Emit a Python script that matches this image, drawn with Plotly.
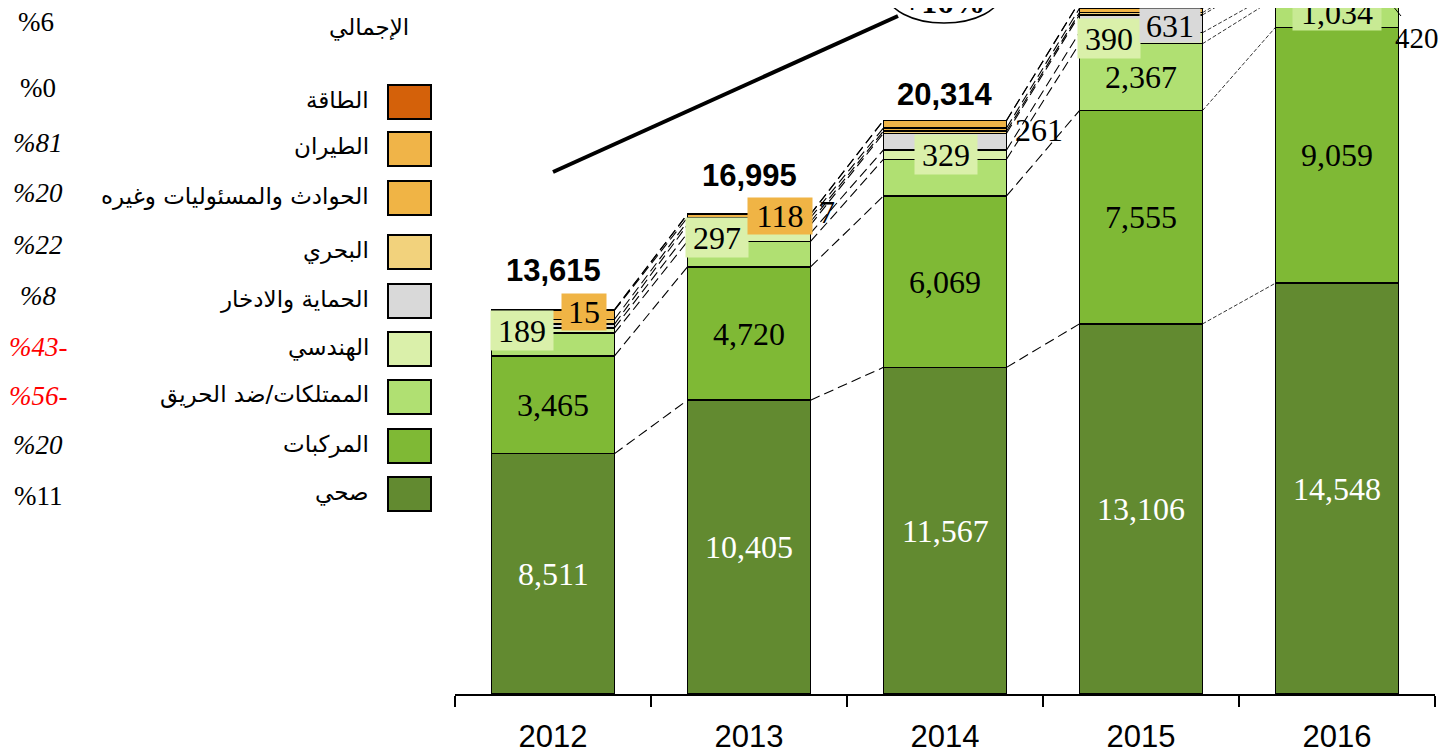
import plotly.graph_objects as go

# ---------------- data ----------------
years = ["2012", "2013", "2014", "2015", "2016"]

series_names = ["صحي", "المركبات", "الممتلكات/ضد الحريق", "الهندسي", "الحماية والادخار",
                "البحري", "الحوادث والمسئوليات وغيره", "الطيران", "الطاقة"]
health = [8511, 10405, 11567, 13106, 14548]
vehicles = [3465, 4720, 6069, 7555, 9059]
property_fire = [800, 900, 1300, 2367, 1034]
engineering = [189, 297, 329, 390, 222]
protection = [135, 290, 590, 631, 681]
marine = [170, 110, 80, 80, 98]
accidents = [320, 148, 110, 150, 180]
aviation = [15, 118, 261, 232, 420]
energy = [10, 7, 8, 5, 5]
totals = [13615, 16995, 20314]          # printed totals (2015/2016 cut off)
growth_labels = ["%11", "%20", "%56-", "%43-", "%8", "%22", "%20", "%81", "%0"]  # per series, bottom->top
total_growth = "%6"
total_label = "الإجمالي"
cagr_label = "+16%"

colors = ["#628a30", "#7fb935", "#b0e072", "#daf0aa", "#d9d9d9",
          "#f2d27c", "#f0b445", "#f0b448", "#d4610a"]
series = [health, vehicles, property_fire, engineering, protection,
          marine, accidents, aviation, energy]

# ---------------- geometry helpers ----------------
# page has an 8px body margin, so figure coords are offset by 8px
OFF = 8
W, H = 1437, 754
ML, MR, MT, MB = 447, 10, 0, 68
PW, PH = W - ML - MR, H - MT - MB
BARGAP = 0.372
HW = (1 - BARGAP) / 2
YMAX = 24292

def px(x):  # visual page x -> paper
    return (x - OFF - ML) / PW

def py(y):  # visual page y -> paper
    return (PH - (y - OFF - MT)) / PH

SERIF = "Liberation Serif, Times New Roman, serif"
SANS = "Liberation Sans, Arial, sans-serif"
ARAB = "DejaVu Sans, Arial, sans-serif"

fig = go.Figure()
for name, vals, col in zip(series_names, series, colors):
    fig.add_trace(go.Bar(x=years, y=vals, name=name, marker_color=col,
                         marker_line=dict(color="black", width=1.5),
                         hoverinfo="skip", showlegend=False))

# cumulative boundaries
cum = []
run = [0] * len(years)
for vals in series:
    run = [r + v for r, v in zip(run, vals)]
    cum.append(list(run))
bottoms = [[0] * len(years)] + cum[:-1]

shapes = []
# dashed connectors between bars
for k in range(len(series)):
    for i in range(len(years) - 1):
        fine = i == 3
        shapes.append(dict(type="line", xref="x", yref="y",
                           x0=i + HW, y0=cum[k][i], x1=i + 1 - HW, y1=cum[k][i + 1],
                           line=dict(color="black", width=0.8 if fine else 1.1,
                                     dash="4px,2px" if fine else "10px,5px")))

annotations = []

def ann(x, y, text, **kw):
    d = dict(x=x, y=y, text=text, showarrow=False, xref="x", yref="y",
             xanchor="center", yanchor="middle")
    d.update(kw)
    annotations.append(d)

def pann(x, y, text, **kw):
    d = dict(x=px(x), y=py(y), text=text, showarrow=False, xref="paper", yref="paper",
             xanchor="center", yanchor="middle")
    d.update(kw)
    annotations.append(d)

VF = 32
# health labels (white) and vehicles labels
for i in range(len(years)):
    ann(i, health[i] / 2, f"{health[i]:,}", font=dict(family=SERIF, size=VF, color="white"))
    ann(i, health[i] + vehicles[i] / 2, f"{vehicles[i]:,}",
        font=dict(family=SERIF, size=VF, color="black"))

# property labels for 2015 / 2016
ann(3, bottoms[2][3] + property_fire[3] / 2, f"{property_fire[3]:,}",
    font=dict(family=SERIF, size=VF, color="black"))
ann(4, bottoms[2][4] + property_fire[4] / 2, f"{property_fire[4]:,}",
    font=dict(family=SERIF, size=VF, color="black"), bgcolor="#c8ea94",
    width=86, height=32)

# engineering boxed labels
eng_dx = [-31, -32, 1, -32]
for i in range(4):
    ann(i, bottoms[3][i] + engineering[i] / 2, f"{engineering[i]:,}", xshift=eng_dx[i],
        font=dict(family=SERIF, size=VF, color="black"), bgcolor="#daf0aa",
        width=60, height=37)

# aviation labels
ann(0, bottoms[7][0] + aviation[0] / 2, f"{aviation[0]:,}", xshift=31, yshift=-2,
    font=dict(family=SERIF, size=VF, color="black"), bgcolor="#f0b445", width=42, height=34)
ann(1, bottoms[7][1] + aviation[1] / 2, f"{aviation[1]:,}", xshift=31, yshift=0,
    font=dict(family=SERIF, size=VF, color="black"), bgcolor="#f0b445", width=62, height=34)
ann(2 + HW, bottoms[7][2] + aviation[2] / 2, f"{aviation[2]:,}", xanchor="left", xshift=6,
    yshift=-6, font=dict(family=SERIF, size=VF, color="black"))
pann(1441, 38, f"{aviation[4]:,}", xanchor="right", font=dict(family=SERIF, size=29, color="black"))
# energy 2013
ann(1 + HW, cum[8][1], f"{energy[1]:,}", xanchor="left", xshift=6, yshift=2,
    font=dict(family=SERIF, size=VF, color="black"))
# protection 2015
ann(3, bottoms[4][3] + protection[3] / 2, f"{protection[3]:,}", xshift=29, yshift=-2,
    font=dict(family=SERIF, size=VF, color="black"), bgcolor="#d9d9d9", width=58, height=31)

# totals
tot_dy = [39, 39, 26]
for i, t in enumerate(totals):
    ann(i, t, f"<b>{t:,}</b>", yshift=tot_dy[i], font=dict(family=SANS, size=31, color="black"))

# short leader mark for 2016
shapes.append(dict(type="line", xref="paper", yref="paper", x0=px(1388), y0=py(0),
                   x1=px(1401), y1=py(16), line=dict(color="black", width=1)))

# trend line and ellipse
shapes.append(dict(type="line", xref="paper", yref="paper", x0=px(553), y0=py(172),
                   x1=px(898), y1=py(16), line=dict(color="black", width=4)))
shapes.append(dict(type="circle", xref="paper", yref="paper", x0=px(887), y0=py(23),
                   x1=px(1001), y1=py(-37), fillcolor="white",
                   line=dict(color="black", width=1.5)))
pann(944, 2, f"<b>{cagr_label}</b>", font=dict(family=SERIF, size=32, color="black"))

# custom legend (rows listed bottom series first)
row_y = [494, 446, 397, 349, 301, 252, 198, 149, 102]
pct_y = [496, 445, 396, 347, 296, 245, 193, 143, 88]
italic = [False, True, True, True, True, True, True, True, False]
for k, name in enumerate(series_names):
    yc = row_y[k]
    shapes.append(dict(type="rect", xref="paper", yref="paper", x0=px(388), x1=px(431),
                       y0=py(yc - 17), y1=py(yc + 17), fillcolor=colors[k],
                       line=dict(color="black", width=2)))
    pann(371, yc - 2, name, xanchor="right", font=dict(family=ARAB, size=23, color="black"))
    g = growth_labels[k]
    col = "red" if g.endswith("-") else "black"
    txt = f"<i>{g}</i>" if italic[k] else g
    pann(38, pct_y[k], txt, font=dict(family=SERIF, size=27, color=col))

pann(411, 28, total_label, xanchor="right", font=dict(family=ARAB, size=23, color="black"))
pann(36, 22, total_growth, font=dict(family=SERIF, size=27, color="black"))

fig.update_layout(
    width=W, height=H, barmode="stack", bargap=BARGAP,
    margin=dict(l=ML, r=MR, t=MT, b=MB),
    paper_bgcolor="white", plot_bgcolor="white",
    shapes=shapes, annotations=annotations,
    xaxis=dict(type="category", range=[-0.5, 4.5], showline=True, linecolor="black",
               linewidth=1.5, ticks="outside", ticklen=11, tickwidth=1.5, tickcolor="black",
               tickson="boundaries", showgrid=False, zeroline=False,
               ticklabelstandoff=14,
               tickfont=dict(family="Liberation Sans Narrow, " + SANS, size=31, color="black")),
    yaxis=dict(range=[0, YMAX], visible=False, showgrid=False, zeroline=False),
    showlegend=False,
)

fig.write_html("out.html")
